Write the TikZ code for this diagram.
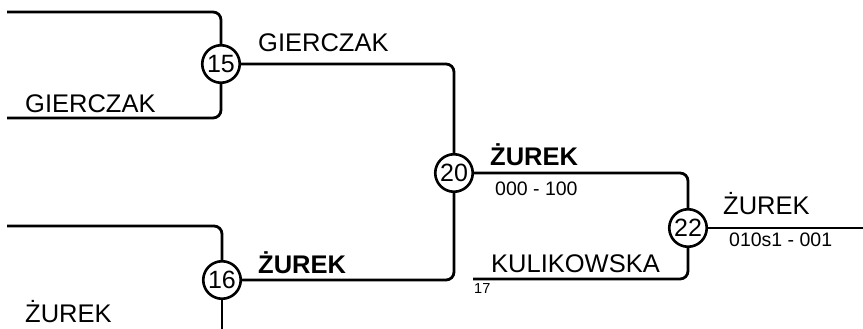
\documentclass[tikz,border=0pt]{standalone}
\usepackage{fontspec}
\setmainfont{Liberation Sans}
\begin{document}
\begin{tikzpicture}[x=1pt,y=-1pt,
  wire/.style={line width=2.8pt,rounded corners=8pt},
  junc/.style={circle,draw,line width=2.6pt,minimum size=37.5pt,inner sep=0pt,font=\fontsize{25}{25}\selectfont,fill=white},
  big/.style={anchor=base west,inner sep=0pt,font=\fontsize{25.5}{26}\selectfont},
  bigb/.style={anchor=base west,inner sep=0pt,font=\fontsize{25.5}{26}\selectfont\bfseries},
  small/.style={anchor=base west,inner sep=0pt,font=\fontsize{19.5}{20}\selectfont},
  tiny/.style={anchor=base west,inner sep=0pt,font=\fontsize{14.5}{15}\selectfont}]
\useasboundingbox (0,0) rectangle (863,329);
\node[junc] (n15) at (221,64) {15};
\node[junc] (n16) at (222,280) {16};
\node[junc] (n20) at (454,173) {20};
\node[junc] (n22) at (688,228) {22};
\coordinate (a1) at (7,12);
\coordinate (a2) at (7,118);
\coordinate (b1) at (7,226);
\coordinate (b2) at (222,329);
\coordinate (k1) at (473,279);
\coordinate (out) at (863,228);
% bracket 15
\draw[wire] (a1) -- (n15.north |- a1) -- (n15.north);
\draw[wire] (n15.south) -- (n15.south |- a2) -- (a2);
% bracket 16
\draw[wire] (b1) -- (n16.north |- b1) -- (n16.north);
\draw[wire] (n16.south) -- (b2);
% to 20
\draw[wire] (n15.east) -- (n15.east -| n20.north) -- (n20.north);
\draw[wire] (n16.east) -- (n16.east -| n20.south) -- (n20.south);
% to 22
\draw[wire] (n20.east) -- (n20.east -| n22.north) -- (n22.north);
\draw[wire] (k1) -- (k1 -| n22.south) -- (n22.south);
\draw[wire] (n22.east) -- (out);
% labels
\node[big] (t1) at (258,52) {GIERCZAK};
\node[big] (t2) at (25,113) {GIERCZAK};
\node[bigb] (t3) at (258,273) {ŻUREK};
\node[big] (t4) at (25,322) {ŻUREK};
\node[bigb] (t5) at (490,165) {ŻUREK};
\node[small] (t6) at (495,195) {000 - 100};
\node[big] (t7) at (723,214) {ŻUREK};
\node[small] (t8) at (729,246) {010s1 - 001};
\node[big] (t9) at (491,272) {KULIKOWSKA};
\node[tiny] (t10) at (474,293) {17};
\end{tikzpicture}
\end{document}
